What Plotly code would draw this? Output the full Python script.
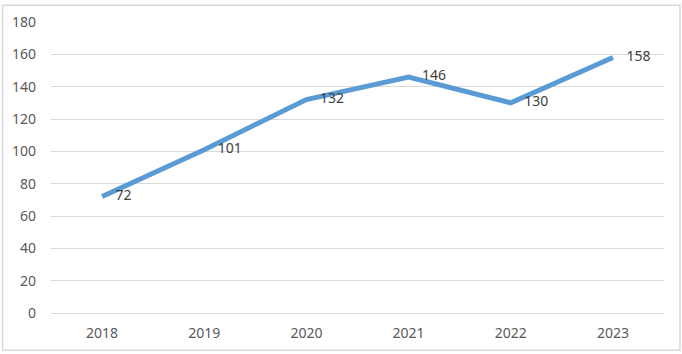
import plotly.graph_objects as go

years = ["2018", "2019", "2020", "2021", "2022", "2023"]
values = [72, 101, 132, 146, 130, 158]
y_ticks = [0, 20, 40, 60, 80, 100, 120, 140, 160, 180]

W, H = 682, 354
L, R, T, B = 50, 18, 18, 40
pw, ph = W - L - R, H - T - B

def px(x):
    return (x - L) / pw

def py(y):
    return (H - B - y) / ph

fig = go.Figure()
fig.add_trace(go.Scatter(
    x=years, y=values, mode="lines+markers+text",
    line=dict(color="#5B9BD5", width=5),
    marker=dict(size=20, color="rgba(0,0,0,0)"),
    text=[str(v) for v in values], textposition="middle right",
    textfont=dict(family="Noto Sans, sans-serif", size=14, color="#404040"),
    cliponaxis=False, showlegend=False,
))

fig.add_shape(type="rect", xref="paper", yref="paper",
              x0=px(1.5), x1=px(680), y0=py(352), y1=py(1),
              line=dict(color="#D9D9D9", width=1.5), fillcolor="rgba(0,0,0,0)")

fig.update_layout(
    width=W, height=H,
    margin=dict(l=L, r=R, t=T, b=B),
    plot_bgcolor="white", paper_bgcolor="white",
    xaxis=dict(type="category", range=[-0.5, 5.5], showgrid=False, showline=False,
               ticks="", ticklabelstandoff=10,
               tickfont=dict(family="Noto Sans, sans-serif", size=14, color="#595959")),
    yaxis=dict(range=[0, 180], tickvals=y_ticks, showgrid=True, gridcolor="#D9D9D9",
               gridwidth=1, zeroline=True, zerolinecolor="#D9D9D9", zerolinewidth=1,
               showline=False, ticks="", ticklabelstandoff=14,
               tickfont=dict(family="Noto Sans, sans-serif", size=14, color="#595959")),
)

fig.write_html("out.html")
